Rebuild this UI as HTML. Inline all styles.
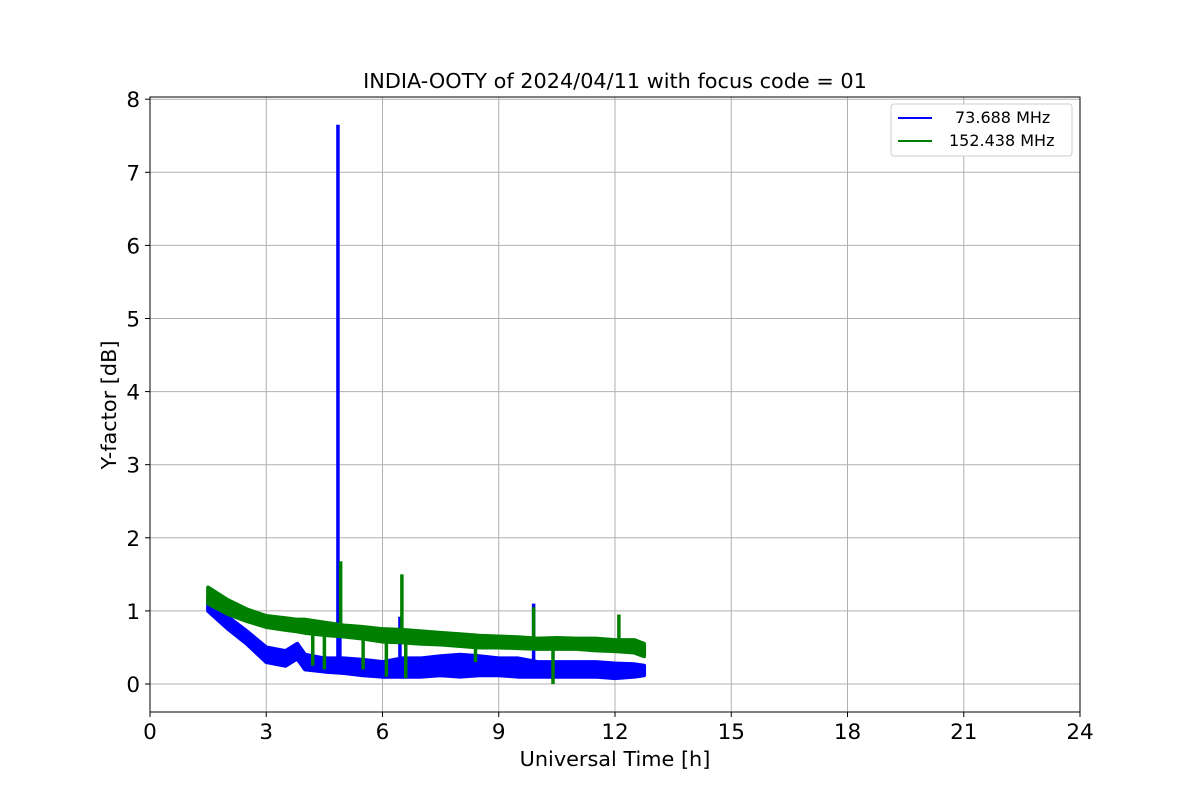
<!DOCTYPE html>
<html><head><meta charset="utf-8"><style>
body{margin:0;background:#fff;}
svg text{font-family:"DejaVu Sans","Liberation Sans",sans-serif;fill:#000;}
</style></head><body>
<svg id="chart" width="1200" height="800" xmlns="http://www.w3.org/2000/svg">
<rect width="1200" height="800" fill="#fff"/>
<g id="grid"></g>
<g id="series"></g>
<rect x="150" y="97" width="930" height="615" fill="none" stroke="#000" stroke-width="1"/>
<g id="ticks"></g>
<text x="615" y="88" font-size="20.8" text-anchor="middle">INDIA-OOTY of 2024/04/11 with focus code = 01</text>
<text x="615" y="766" font-size="20.8" text-anchor="middle">Universal Time [h]</text>
<text x="116" y="405" font-size="20.8" text-anchor="middle" transform="rotate(-90 116 405)">Y-factor [dB]</text>
<g>
<rect x="891" y="104" width="181" height="52" rx="3" fill="#fff" stroke="#ccc"/>
<line x1="898" y1="118" x2="932" y2="118" stroke="blue" stroke-width="2"/>
<text x="955" y="123" font-size="16">73.688 MHz</text>
<line x1="898" y1="141" x2="932" y2="141" stroke="green" stroke-width="2"/>
<text x="949" y="146" font-size="16">152.438 MHz</text>
</g>
</svg>
<script>
const times=[1.5,2,2.5,3,3.5,3.8,4,4.5,5,5.5,6,6.5,7,7.5,8,8.5,9,9.5,10,10.5,11,11.5,12,12.5,12.75];
const blueHi=[1.18,0.92,0.72,0.5,0.45,0.55,0.4,0.35,0.35,0.33,0.3,0.35,0.35,0.38,0.4,0.38,0.35,0.35,0.3,0.3,0.3,0.3,0.28,0.27,0.25];
const blueLo=[1.0,0.76,0.55,0.3,0.25,0.35,0.2,0.17,0.15,0.12,0.1,0.1,0.1,0.12,0.1,0.12,0.12,0.1,0.1,0.1,0.1,0.1,0.08,0.1,0.12];
const greenHi=[1.32,1.15,1.02,0.93,0.9,0.88,0.88,0.84,0.8,0.78,0.75,0.74,0.72,0.7,0.68,0.66,0.65,0.64,0.62,0.63,0.62,0.62,0.6,0.6,0.55];
const greenLo=[1.1,0.96,0.86,0.78,0.74,0.72,0.7,0.67,0.65,0.62,0.58,0.57,0.55,0.54,0.52,0.5,0.5,0.49,0.48,0.48,0.48,0.46,0.45,0.43,0.38];
const blueSpikeT=[4.85,4.9,6.45,9.9];
const blueSpikeV=[7.65,1.6,0.92,1.1];
const greenSpikeT=[4.92,6.5,9.9,12.1,4.2,4.5,5.5,6.1,6.6,8.4,10.4];
const greenSpikeV=[1.68,1.5,1.05,0.95,0.25,0.2,0.2,0.1,0.08,0.3,0.0];
const xTicks=[0,3,6,9,12,15,18,21,24];
const yTicks=[0,1,2,3,4,5,6,7,8];
const NS="http://www.w3.org/2000/svg";
const X=t=>150+t*930/24;
const Y=v=>684-v*73.1;
function mk(tag,attrs,parent){const e=document.createElementNS(NS,tag);for(const k in attrs)e.setAttribute(k,attrs[k]);parent.appendChild(e);return e;}
const grid=document.getElementById('grid'),ticks=document.getElementById('ticks'),ser=document.getElementById('series');
xTicks.forEach(t=>{
  const g=mk('line',{x1:X(t),x2:X(t),y1:97,y2:712,stroke:'#b0b0b0','stroke-width':1},grid);
  
  const tk=mk('line',{x1:X(t),x2:X(t),y1:712,y2:717,stroke:'#000'},ticks);
  
  const tx=mk('text',{x:X(t),y:739,'font-size':21.5,'text-anchor':'middle'},ticks);tx.textContent=t;
  
});
yTicks.forEach(v=>{
  const g=mk('line',{x1:150,x2:1080,y1:Y(v),y2:Y(v),stroke:'#b0b0b0','stroke-width':1},grid);
  
  const tk=mk('line',{x1:145,x2:150,y1:Y(v),y2:Y(v),stroke:'#000'},ticks);
  
  const tx=mk('text',{x:140,y:Y(v)+8,'font-size':21.5,'text-anchor':'end'},ticks);tx.textContent=v;
  
});
function band(hi,lo,color,name){
  let pts=times.map((t,i)=>X(t)+','+Y(hi[i]));
  pts=pts.concat(times.map((t,i)=>X(t)+','+Y(lo[i])).reverse());
  const p=mk('polygon',{points:pts.join(' '),fill:color,stroke:color,'stroke-width':4,'stroke-linejoin':'round'},ser);
  
}
function spikes(T,V,hi,lo,color,name){
  T.forEach((t,k)=>{
    let i=0;while(i<times.length-2&&times[i+1]<t)i++;
    const base=(hi[i]+lo[i])/2;
    const l=mk('line',{x1:X(t),x2:X(t),y1:Y(base),y2:Y(V[k]),stroke:color,'stroke-width':3.5},ser);
    
  });
}
band(blueHi,blueLo,'blue','series-73mhz-band');
spikes(blueSpikeT,blueSpikeV,blueHi,blueLo,'blue','series-73mhz-spike');
band(greenHi,greenLo,'green','series-152mhz-band');
spikes(greenSpikeT,greenSpikeV,greenHi,greenLo,'green','series-152mhz-spike');
</script>
</body></html>
